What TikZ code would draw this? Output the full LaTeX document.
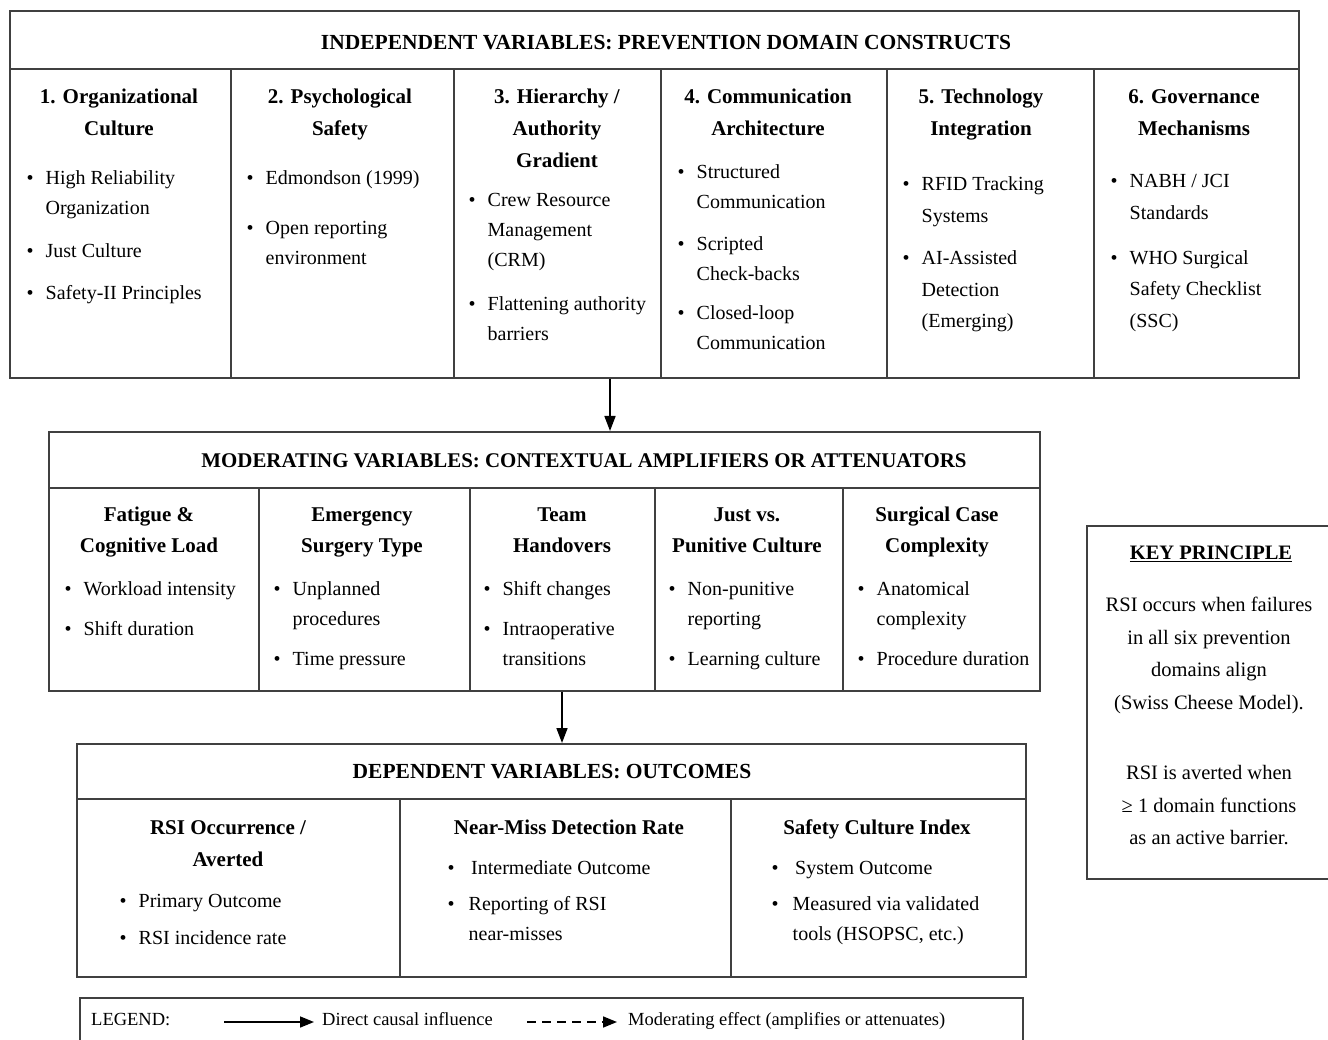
\documentclass[tikz,border=0pt]{standalone}
\usepackage{fontspec}
\setmainfont{Liberation Serif}
\usetikzlibrary{arrows.meta}
\newcommand\bl[1][19pt]{\makebox[#1][l]{\textbullet}}
\newcommand\ind[1][19pt]{\hspace*{#1}}
\begin{document}
\begin{tikzpicture}[x=1pt,y=-1pt,
  box/.style={draw=black!75, line width=1.6pt, inner sep=0, anchor=north west},
  rule/.style={draw=black!75, line width=1.4pt},
  hdr/.style={font=\fontsize{21.5}{24}\selectfont\bfseries, inner sep=0},
  ttl/.style={font=\fontsize{21}{32}\selectfont\bfseries, align=center, inner sep=0, anchor=north},
  lst/.style={font=\fontsize{20}{30}\selectfont, align=left, inner sep=0, anchor=north west},
  keytxt/.style={font=\fontsize{20.5}{32.5}\selectfont, align=center, inner sep=0, anchor=north},
  leg/.style={font=\fontsize{18.5}{22}\selectfont, inner sep=0, anchor=west, text height=13pt, text depth=4pt},
  arr/.style={draw=black, line width=1.6pt, -{Triangle[length=15pt,width=11pt]}},
  legarr/.style={draw=black, line width=1.6pt, -{Triangle[length=14pt,width=11pt]}},
]
\useasboundingbox (0,0) rectangle (1328,1040);
\clip (0,0) rectangle (1328,1040);
\fill[white] (0,0) rectangle (1328,1040);

% ---------- Independent variables ----------
\node[box, minimum width=1289pt, minimum height=367pt] (indep) at (9,10) {};
\draw[rule] (9,69) -- (1298,69);
\foreach \x in {231,454,661,887,1094} \draw[rule] (\x,69) -- (\x,377);
\node[hdr] (indeph) at (666,43) {INDEPENDENT VARIABLES: PREVENTION DOMAIN CONSTRUCTS};

\node[ttl] (it1) at (119,80.6) {\strut 1. Organizational\\Culture};
\node[ttl] (it2) at (340,80.6) {\strut 2. Psychological\\Safety};
\node[ttl] (it3) at (557,80.6) {\strut 3. Hierarchy /\\Authority\\Gradient};
\node[ttl] (it4) at (768,80.6) {\strut 4. Communication\\Architecture};
\node[ttl] (it5) at (981,80.6) {\strut 5. Technology\\Integration};
\node[ttl] (it6) at (1194,80.6) {\strut 6. Governance\\Mechanisms};

\node[lst] (il1) at (26.5,163.5) {\strut\bl High Reliability\\\ind Organization\\[12.5pt]\bl Just Culture\\[12.5pt]\bl Safety-II Principles};
\node[lst] (il2) at (246.5,163.5) {\strut\bl Edmondson (1999)\\[20pt]\bl Open reporting\\\ind environment};
\node[lst] (il3) at (468.5,185.5) {\strut\bl Crew Resource\\\ind Management\\\ind (CRM)\\[14pt]\bl Flattening authority\\\ind barriers};
\node[lst] (il4) at (677.5,157.5) {\strut\bl Structured\\\ind Communication\\[12pt]\bl Scripted\\\ind Check-backs\\[9pt]\bl Closed-loop\\\ind Communication};
\node[lst, font=\fontsize{20}{31.5}\selectfont] (il5) at (902.5,168.5) {\strut\bl RFID Tracking\\\ind Systems\\[11pt]\bl AI-Assisted\\\ind Detection\\\ind (Emerging)};
\node[lst, font=\fontsize{20}{31.5}\selectfont] (il6) at (1110.5,165.5) {\strut\bl NABH / JCI\\\ind Standards\\[13.5pt]\bl WHO Surgical\\\ind Safety Checklist\\\ind (SSC)};

% ---------- Moderating variables ----------
\node[box, minimum width=991pt, minimum height=259pt] (mod) at (48,431) {};
\draw[rule] (48,488) -- (1039,488);
\foreach \x in {259,470,655,843} \draw[rule] (\x,488) -- (\x,690);
\node[hdr, font=\fontsize{20.9}{24}\selectfont\bfseries] (modh) at (584,461) {MODERATING VARIABLES: CONTEXTUAL AMPLIFIERS OR ATTENUATORS};

\node[ttl, font=\fontsize{21}{31}\selectfont\bfseries] (mt1) at (149,499.6) {\strut Fatigue \&\\Cognitive Load};
\node[ttl, font=\fontsize{21}{31}\selectfont\bfseries] (mt2) at (362,499.6) {\strut Emergency\\Surgery Type};
\node[ttl, font=\fontsize{21}{31}\selectfont\bfseries] (mt3) at (562,499.6) {\strut Team\\Handovers};
\node[ttl, font=\fontsize{21}{31}\selectfont\bfseries] (mt4) at (747,499.6) {\strut Just vs.\\Punitive Culture};
\node[ttl, font=\fontsize{21}{31}\selectfont\bfseries] (mt5) at (937,499.6) {\strut Surgical Case\\Complexity};

\node[lst] (ml1) at (64.5,574.5) {\strut\bl Workload intensity\\[10pt]\bl Shift duration};
\node[lst] (ml2) at (273.5,574.5) {\strut\bl Unplanned\\\ind procedures\\[10pt]\bl Time pressure};
\node[lst] (ml3) at (483.5,574.5) {\strut\bl Shift changes\\[10pt]\bl Intraoperative\\\ind transitions};
\node[lst] (ml4) at (668.5,574.5) {\strut\bl Non-punitive\\\ind reporting\\[10pt]\bl Learning culture};
\node[lst] (ml5) at (857.5,574.5) {\strut\bl Anatomical\\\ind complexity\\[10pt]\bl Procedure duration};

% ---------- Dependent variables ----------
\node[box, minimum width=949pt, minimum height=233pt] (dep) at (76,743) {};
\draw[rule] (76,799) -- (1025,799);
\foreach \x in {400,731} \draw[rule] (\x,799) -- (\x,976);
\node[hdr] (deph) at (552,772) {DEPENDENT VARIABLES: OUTCOMES};

\node[ttl] (dt1) at (228,811.6) {\strut RSI Occurrence /\\Averted};
\node[ttl] (dt2) at (569,811.6) {\strut Near-Miss Detection Rate};
\node[ttl] (dt3) at (877,811.6) {\strut Safety Culture Index};

\node[lst] (dl1) at (119.5,886.5) {\strut\bl Primary Outcome\\[7pt]\bl RSI incidence rate};
\node[lst] (dl2) at (447.5,853.5) {\strut\bl[23.5pt]Intermediate Outcome\\[6pt]\bl[21pt]Reporting of RSI\\\ind[21pt]near-misses};
\node[lst] (dl3) at (771.5,853.5) {\strut\bl[23.5pt]System Outcome\\[6pt]\bl[21pt]Measured via validated\\\ind[21pt]tools (HSOPSC, etc.)};

% ---------- Connectors ----------
\coordinate (ax1) at (610,0);
\coordinate (ax2) at (562,0);
\draw[arr] (indep.south -| ax1) -- (mod.north -| ax1);
\draw[arr] (mod.south -| ax2) -- (dep.north -| ax2);

% ---------- Key principle ----------
\node[box, minimum width=260pt, minimum height=353pt] (key) at (1086,525) {};
\node[keytxt, font=\fontsize{20.5}{32.5}\selectfont\bfseries] (keyh) at (1211,537) {\strut\underline{KEY PRINCIPLE}};
\node[keytxt] (keyb) at (1209,588.75) {\strut RSI occurs when failures\\in all six prevention\\domains align\\(Swiss Cheese Model).\\[38pt]RSI is averted when\\≥ 1 domain functions\\as an active barrier.};

% ---------- Legend ----------
\node[box, minimum width=943pt, minimum height=80pt] (legend) at (79,997) {};
\node[leg] (legl) at (91,1021) {LEGEND:};
\coordinate (s1) at (224,1022);
\coordinate (s2) at (314,1022);
\draw[legarr] (s1) -- (s2);
\node[leg] (legd) at (322,1021) {Direct causal influence};
\coordinate (m1) at (527,1022);
\coordinate (m2) at (617,1022);
\draw[legarr, dash pattern=on 9pt off 6pt] (m1) -- (m2);
\node[leg] (legm) at (628,1021) {Moderating effect (amplifies or attenuates)};
\end{tikzpicture}
\end{document}
